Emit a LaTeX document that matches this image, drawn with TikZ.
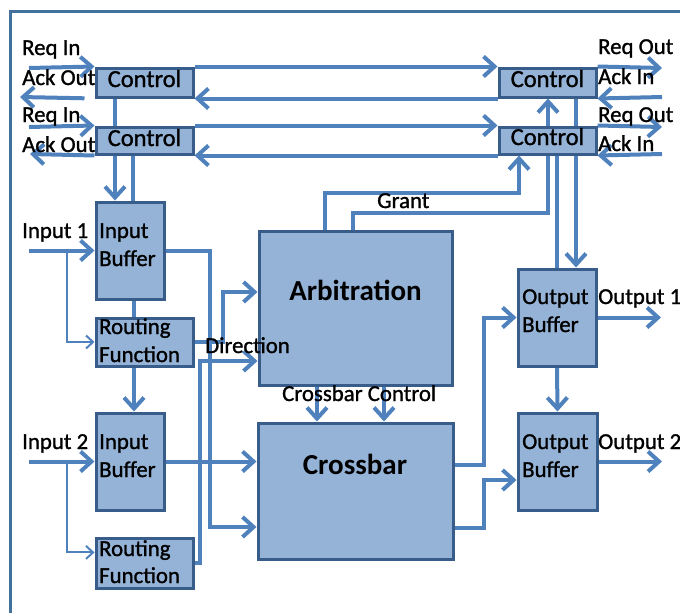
\documentclass[tikz,border=0pt]{standalone}
\usepackage{fontspec}
\setmainfont{Carlito}
\newfontfamily\labelfont[FakeBold=1.2]{Carlito}
\usetikzlibrary{arrows.meta,calc}
\pgfdeclarelayer{bg}
\pgfsetlayers{bg,main}
\definecolor{boxfill}{HTML}{95B3D7}
\definecolor{boxline}{HTML}{385D8A}
\definecolor{wireblue}{HTML}{4F81BD}
\definecolor{framecol}{HTML}{41719C}

\begin{document}
\begin{tikzpicture}[x=1pt,y=-1pt,
  blk/.style={rectangle, draw=boxline, fill=boxfill, line width=3pt, inner sep=0pt},
  sig/.style={draw=wireblue, line width=4pt},
  sarrow/.style={sig, -{Straight Barb[length=11pt,width=20pt]}},
  thinarrow/.style={draw=wireblue, line width=2pt, -{Straight Barb[length=7pt,width=13pt]}},
  lbl/.style={inner sep=0pt, anchor=base west, font=\labelfont\fontsize{22.8}{27}\selectfont},
  ctl/.style={inner sep=0pt, anchor=base, font=\labelfont\fontsize{24.5}{29}\selectfont},
  big/.style={inner sep=0pt, anchor=base, font=\fontsize{29}{34}\selectfont\bfseries},
]
\useasboundingbox (0,0) rectangle (680,613);

% ---- blocks ----
\node[blk, minimum width=97pt, minimum height=29pt] (cL1) at (144.5,82.5) {};
\node[blk, minimum width=97pt, minimum height=27pt] (cL2) at (144.5,140.5) {};
\node[blk, minimum width=97pt, minimum height=29pt] (cR1) at (547.5,82.5) {};
\node[blk, minimum width=97pt, minimum height=27pt] (cR2) at (547.5,140.5) {};
\node[blk, minimum width=68pt, minimum height=97pt] (ib1) at (130,250.5) {};
\node[blk, minimum width=97pt, minimum height=48pt] (rf1) at (144.5,342) {};
\node[blk, minimum width=68pt, minimum height=97pt] (ib2) at (130,461.5) {};
\node[blk, minimum width=97pt, minimum height=50pt] (rf2) at (144.5,563) {};
\node[blk, minimum width=193pt, minimum height=154pt] (arb) at (355.5,308) {};
\node[blk, minimum width=195pt, minimum height=136pt] (xbar) at (355.5,491) {};
\node[blk, minimum width=78pt, minimum height=97pt] (ob1) at (557,317.5) {};
\node[blk, minimum width=79pt, minimum height=97pt] (ob2) at (557.5,461.5) {};

% ---- free ends, bends and guides ----
\coordinate (ri1) at (29,68);   \coordinate (ao1) at (20,97);
\coordinate (ri2) at (29,127);  \coordinate (ao2) at (30,154);
\coordinate (ro1) at (662,68);  \coordinate (ai1) at (662,97);
\coordinate (ro2) at (662,127); \coordinate (ai2) at (662,154);
\coordinate (gL1) at (115,0);   \coordinate (gL2) at (133,0);  \coordinate (gL3) at (134,0);
\coordinate (gR1) at (576,0);   \coordinate (gR2) at (557,0);
\coordinate (gA1) at (325,0);   \coordinate (gA2) at (353,0);
\coordinate (k1) at (519,193);  \coordinate (k2) at (548,213);
\coordinate (in1) at (29,250.5);  \coordinate (br1) at (67,250.5);
\coordinate (in2) at (29,461.5);  \coordinate (br2) at (67,461.5);
\coordinate (rf2in) at ($(rf2.north west)!0.3!(rf2.south west)$);
\coordinate (j1) at (210,527);  \coordinate (j2) at (223,292);  \coordinate (j3) at (200,361);
\coordinate (gC1) at (317,0);   \coordinate (gC2) at (384,0);
\coordinate (h1) at (0,465);    \coordinate (h2) at (0,528);
\coordinate (j4) at (484,317.5); \coordinate (j5) at (484,480);
\coordinate (out1) at (661,317.5); \coordinate (out2) at (662,461.5);

\begin{pgfonlayer}{bg}
  % outer frame
  \draw[framecol, line width=3pt] (10,620) -- (10,11) -- (690,11);

  % request / acknowledge handshakes
  \draw[sarrow] (ri1) -- (cL1.north west);
  \draw[sarrow] (cL1.north east) -- (cR1.north west);
  \draw[sarrow] (cR1.north east) -- (ro1);
  \draw[sarrow] (ai1) -- (cR1.south east);
  \draw[sarrow] (cR1.south west) -- (cL1.south east);
  \draw[sarrow, shorten <=10pt] (cL1.south west) -- (ao1);
  \draw[sarrow] (ri2) -- (cL2.north west);
  \draw[sarrow] (cL2.north east) -- (cR2.north west);
  \draw[sarrow] (cR2.north east) -- (ro2);
  \draw[sarrow] (ai2) -- (cR2.south east);
  \draw[sarrow] (cR2.south west) -- (cL2.south east);
  \draw[sarrow] (cL2.south west) -- (ao2);

  % control links, input side
  \draw[sig] (cL1.south -| gL1) -- (cL2.north -| gL1);
  \draw[sarrow] (cL2.south -| gL1) -- (ib1.north -| gL1);
  \draw[sig] (cL2.south -| gL2) -- (ib1.north -| gL2);
  \draw[sarrow] (ib1.south -| gL3) -- (ib2.north -| gL3);

  % control links, output side
  \draw[sig] (cR1.south -| gR1) -- (cR2.north -| gR1);
  \draw[sarrow] (cR2.south -| gR1) -- (ob1.north -| gR1);
  \draw[sig] (cR2.south -| gR2) -- (ob1.north -| gR2);

  % grant lines
  \draw[sarrow] (arb.north -| gA1) |- (k1) -- (cR2.south -| k1);
  \draw[sarrow] (arb.north -| gA2) |- (k2) -- (cR1.south -| k2);

  % inputs
  \draw[sarrow] (in1) -- (ib1.west);
  \draw[thinarrow] (br1) |- (rf1.west);
  \draw[sarrow] (in2) -- (ib2.west);
  \draw[thinarrow] (br2) |- (rf2in);

  % data and direction paths
  \draw[sarrow] (ib1.east) -| (j1) -- (j1 -| xbar.west);
  \draw[sarrow] (ib2.east) -- (ib2.east -| xbar.west);
  \draw[sarrow] (rf1.east) -| (j2) -- (j2 -| arb.west);
  \draw[sarrow] (rf2.east) -| (j3) -- (j3 -| arb.west);

  % crossbar control
  \draw[sarrow] (arb.south -| gC1) -- (xbar.north -| gC1);
  \draw[sarrow] (arb.south -| gC2) -- (xbar.north -| gC2);

  % crossbar to outputs
  \draw[sarrow] (xbar.east |- h1) -| (j4) -- (j4 -| ob1.west);
  \draw[sarrow] (xbar.east |- h2) -| (j5) -- (j5 -| ob2.west);
  \draw[sarrow] (ob1.south) -- (ob2.north);
  \draw[sarrow] (ob1.east) -- (out1);
  \draw[sarrow] (ob2.east) -- (out2);
\end{pgfonlayer}

% ---- texts ----
\node[lbl] (tRi1) at (22,55) {Req In};
\node[lbl] (tAo1) at (22,85) {Ack Out};
\node[lbl] (tRi2) at (22,122) {Req In};
\node[lbl] (tAo2) at (22,152) {Ack Out};
\node[lbl] (tRo1) at (598,54) {Req Out};
\node[lbl] (tAi1) at (598,84) {Ack In};
\node[lbl] (tRo2) at (598,122) {Req Out};
\node[lbl] (tAi2) at (598,151) {Ack In};
\node[ctl] (tcL1) at (144.5,87) {Control};
\node[ctl] (tcL2) at (144.5,146) {Control};
\node[ctl] (tcR1) at (547.5,87) {Control};
\node[ctl] (tcR2) at (547.5,145) {Control};
\node[lbl] (tIn1) at (22,238) {Input 1};
\node[lbl] (tIn2) at (22,449) {Input 2};
\node[lbl] (tib1a) at (99,238) {Input};
\node[lbl] (tib1b) at (99,266) {Buffer};
\node[lbl] (tib2a) at (99,449) {Input};
\node[lbl] (tib2b) at (99,477) {Buffer};
\node[lbl] (trf1a) at (99,334) {Routing};
\node[lbl] (trf1b) at (99,362) {Function};
\node[lbl] (trf2a) at (99,556) {Routing};
\node[lbl] (trf2b) at (99,583) {Function};
\node[lbl] (tob1a) at (522,304) {Output};
\node[lbl] (tob1b) at (522,332) {Buffer};
\node[lbl] (tob2a) at (522,449) {Output};
\node[lbl] (tob2b) at (522,477) {Buffer};
\node[lbl] (tOut1) at (598,304) {Output 1};
\node[lbl] (tOut2) at (598,449) {Output 2};
\node[lbl] (tDir) at (205,353) {Direction};
\node[lbl] (tGrant) at (377,208) {Grant};
\node[lbl] (tXc) at (282,401) {Crossbar Control};
\node[big] (tArb) at (355.5,300) {Arbitration};
\node[big] (tXbar) at (355,474) {Crossbar};
\end{tikzpicture}
\end{document}
